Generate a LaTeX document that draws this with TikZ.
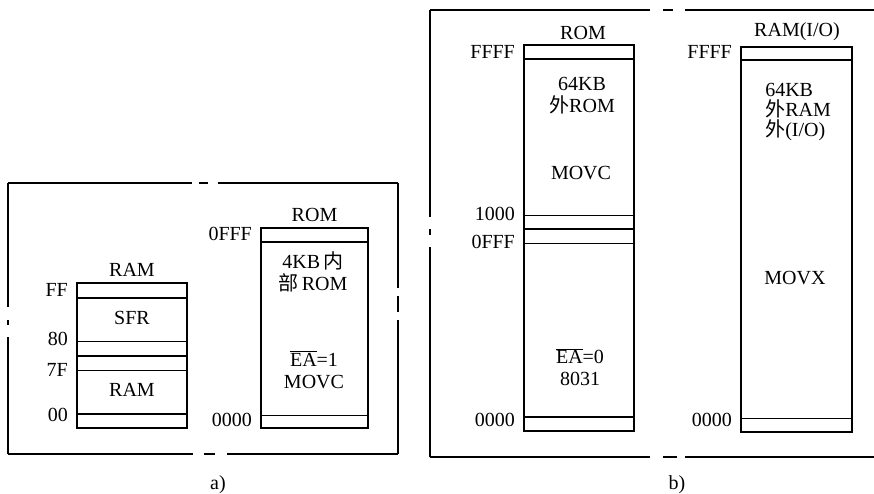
\documentclass[tikz,border=0pt]{standalone}
\usepackage{fontspec}
\setmainfont{Liberation Serif}
\newfontfamily\cjk{Noto Sans CJK SC}
\usepackage{tikz}
\usetikzlibrary{positioning, calc}
\newcommand{\memfont}{\fontsize{15}{16.5}\selectfont}
\newcommand{\eabar}{$\overline{\hbox{EA}}$}
\tikzset{
  membox/.style={rectangle, draw, line width=1.3pt, inner sep=0pt},
  addr/.style={anchor=east, inner sep=0pt, xshift=-6pt, font=\memfont,
    text height=1.5ex, text depth=.25ex},
  memtext/.style={align=center, inner sep=0pt, font=\memfont},
  divthick/.style={line width=1.3pt},
  divthin/.style={line width=0.6pt},
  frameline/.style={line width=0.8pt}
}

\begin{document}
\begin{tikzpicture}[x=0.75pt, y=-0.75pt]
  \useasboundingbox (0,0) rectangle (874,493);

  \draw[frameline] (8,183) -- (192,183) (199,183) -- (208,183) (218,183) -- (398,183);
  \draw[frameline] (8,454) -- (193,454) (204,454) -- (215,454) (227,454) -- (398,454);
  \draw[frameline] (8,183) -- (8,307) (8,320) -- (8,325) (8,337) -- (8,454);
  \draw[frameline] (398,183) -- (398,288) (398,296) -- (398,312) (398,320) -- (398,454);

  \draw[frameline] (430,10) -- (650,10) (663,10) -- (673,10) (685,10) -- (874,10);
  \draw[frameline] (430,457) -- (650,457) (663,457) -- (677,457) (685,457) -- (874,457);
  \draw[frameline] (430,10) -- (430,217) (430,229) -- (430,235) (430,247) -- (430,457);

  \node[membox, minimum width=82.5pt, minimum height=108.75pt] (ram) at (132,355.5) {};
  \node[memtext] (ramtitle) at (132,270) {RAM};
  \draw[divthick] (ram.west |- 0,298) -- (ram.east |- 0,298);
  \draw[divthin] (ram.west |- 0,341) -- (ram.east |- 0,341);
  \draw[divthick] (ram.west |- 0,356) -- (ram.east |- 0,356);
  \draw[divthin] (ram.west |- 0,370) -- (ram.east |- 0,370);
  \draw[divthick] (ram.west |- 0,414) -- (ram.east |- 0,414);
  \node[addr] (ramff) at (ram.west |- 0,293) {FF};
  \node[addr] (ram80) at (ram.west |- 0,342) {80};
  \node[addr] (ram7f) at (ram.west |- 0,373) {7F};
  \node[addr] (ram00) at (ram.west |- 0,418) {00};
  \node[memtext] (sfr) at (132,318) {SFR};
  \node[memtext] (lowram) at (132,390) {RAM};

  \node[membox, minimum width=80.25pt, minimum height=150pt] (irom) at (314.5,328) {};
  \node[memtext] (iromtitle) at (314.5,215) {ROM};
  \draw[divthick] (irom.west |- 0,242) -- (irom.east |- 0,242);
  \draw[divthin] (irom.west |- 0,415) -- (irom.east |- 0,415);
  \node[addr] (iromtop) at (irom.west |- 0,237) {0FFF};
  \node[addr] (irombot) at (irom.west |- 0,423) {0000};
  \node[memtext] (iromsize) at (313,272) {4KB\,{\cjk 内}\\{\cjk 部}\,ROM};
  \node[memtext] (iromea) at (314,370) {\eabar=1\\MOVC};
  \node[memtext] (capa) at (218,485) {a)};

  \node[membox, minimum width=82.5pt, minimum height=289.5pt] (xrom) at (579,238) {};
  \node[memtext] (xromtitle) at (583,33) {ROM};
  \draw[divthick] (xrom.west |- 0,59) -- (xrom.east |- 0,59);
  \draw[divthin] (xrom.west |- 0,215) -- (xrom.east |- 0,215);
  \draw[divthick] (xrom.west |- 0,229) -- (xrom.east |- 0,229);
  \draw[divthin] (xrom.west |- 0,243) -- (xrom.east |- 0,243);
  \draw[divthick] (xrom.west |- 0,417) -- (xrom.east |- 0,417);
  \node[addr] (xromtop) at (xrom.west |- 0,55) {FFFF};
  \node[addr] (xrom1k) at (xrom.west |- 0,217) {1000};
  \node[addr] (xromfff) at (xrom.west |- 0,245) {0FFF};
  \node[addr] (xrombot) at (xrom.west |- 0,423) {0000};
  \node[memtext] (xromsize) at (582,96) {64KB\\{\cjk 外}ROM};
  \node[memtext] (xrommovc) at (581,173) {MOVC};
  \node[memtext] (xromea) at (580,367) {\eabar=0\\8031};

  \node[membox, minimum width=83.25pt, minimum height=288.75pt] (xram) at (796.5,239.5) {};
  \node[memtext] (xramtitle) at (797,32) {RAM(I/O)};
  \draw[divthick] (xram.west |- 0,60) -- (xram.east |- 0,60);
  \draw[divthin] (xram.west |- 0,418) -- (xram.east |- 0,418);
  \node[addr] (xramtop) at (xram.west |- 0,55) {FFFF};
  \node[addr] (xrambot) at (xram.west |- 0,423) {0000};
  \node[memtext, align=left, anchor=north west, font=\fontsize{15}{15}\selectfont] (xramsize) at (765,83) {64KB\\{\cjk 外}RAM\\{\cjk 外}(I/O)};
  \node[memtext] (xrammovx) at (795,278) {MOVX};
  \node[memtext] (capb) at (677,485) {b)};
\end{tikzpicture}
\end{document}
